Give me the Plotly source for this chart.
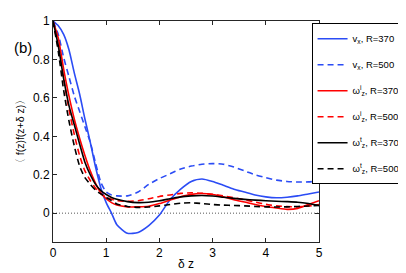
import plotly.graph_objects as go

x_grid = [0, 0.1, 0.2, 0.3, 0.4, 0.5, 0.6, 0.7, 0.8, 0.9, 1.0, 1.1, 1.2, 1.4, 1.6, 1.8,
          2.0, 2.2, 2.4, 2.6, 2.8, 3.0, 3.2, 3.4, 3.6, 3.8, 4.0, 4.2, 4.4, 4.6, 4.8, 5.0]

vx_370 = [1.0, 0.975, 0.93, 0.85, 0.73, 0.62, 0.49, 0.37, 0.24, 0.13, 0.055, 0.0, -0.06,
          -0.105, -0.10, -0.065, -0.01, 0.07, 0.125, 0.165, 0.178, 0.165, 0.145, 0.125,
          0.11, 0.095, 0.085, 0.08, 0.083, 0.09, 0.10, 0.11]
vx_500 = [1.0, 0.93, 0.81, 0.71, 0.61, 0.53, 0.45, 0.37, 0.26, 0.16, 0.11, 0.095, 0.09,
          0.09, 0.11, 0.15, 0.18, 0.205, 0.23, 0.245, 0.255, 0.258, 0.255, 0.24, 0.22,
          0.20, 0.185, 0.172, 0.165, 0.162, 0.163, 0.167]
wzi_370 = [1.0, 0.91, 0.75, 0.61, 0.49, 0.39, 0.30, 0.22, 0.155, 0.105, 0.075, 0.055, 0.042,
           0.033, 0.033, 0.036, 0.05, 0.068, 0.085, 0.098, 0.102, 0.097, 0.085, 0.07,
           0.058, 0.045, 0.035, 0.027, 0.02, 0.025, 0.045, 0.065]
wzi_500 = [1.0, 0.86, 0.70, 0.54, 0.41, 0.30, 0.22, 0.17, 0.13, 0.10, 0.083, 0.072, 0.065,
           0.062, 0.065, 0.075, 0.087, 0.095, 0.103, 0.106, 0.104, 0.098, 0.09, 0.08,
           0.07, 0.058, 0.046, 0.038, 0.034, 0.033, 0.037, 0.045]
wzt_370 = [1.0, 0.87, 0.70, 0.56, 0.46, 0.36, 0.265, 0.20, 0.15, 0.117, 0.097, 0.082, 0.072,
           0.06, 0.055, 0.057, 0.065, 0.075, 0.085, 0.09, 0.092, 0.089, 0.083, 0.077,
           0.072, 0.068, 0.065, 0.062, 0.06, 0.057, 0.05, 0.04]
wzt_500 = [1.0, 0.84, 0.64, 0.48, 0.35, 0.245, 0.185, 0.15, 0.12, 0.10, 0.082, 0.065, 0.048,
           0.035, 0.03, 0.032, 0.038, 0.045, 0.052, 0.054, 0.05, 0.045, 0.042, 0.04,
           0.038, 0.035, 0.033, 0.032, 0.033, 0.035, 0.037, 0.04]

series = [
    ("v<sub>x</sub>, R=370", vx_370, "#2b4cf5", "solid"),
    ("v<sub>x</sub>, R=500", vx_500, "#2b4cf5", "6px,4px"),
    ("ω<sup>i</sup><sub>z</sub>, R=370", wzi_370, "#ff0000", "solid"),
    ("ω<sup>i</sup><sub>z</sub>, R=500", wzi_500, "#ff0000", "6px,4px"),
    ("ω<sup>t</sup><sub>z</sub>, R=370", wzt_370, "#000000", "solid"),
    ("ω<sup>t</sup><sub>z</sub>, R=500", wzt_500, "#000000", "6px,4px"),
]

x_ticks = [0, 1, 2, 3, 4, 5]
y_ticks = [0, 0.2, 0.4, 0.6, 0.8, 1]
y_tick_labels = ["0", "0.2", "0.4", "0.6", "0.8", "1"]

fig = go.Figure()
for i, (name, ys, color, dash) in enumerate(series):
    fig.add_trace(go.Scatter(x=x_grid, y=ys, mode="lines", name=name, legendgroup=f"g{i}",
                             line=dict(color=color, width=1.6, dash=dash, shape="spline", smoothing=0.6)))

fig.add_shape(type="line", xref="paper", yref="y", x0=0, x1=1, y0=0, y1=0,
              line=dict(color="#555555", width=1, dash="1px,2px"), layer="below")

fig.add_annotation(text="(b)", xref="paper", yref="paper", x=-0.155, y=0.88,
                   xanchor="left", yanchor="middle", showarrow=False,
                   font=dict(size=15, color="#000000"))

axis_common = dict(showline=True, linecolor="#262626", linewidth=1, mirror="ticks",
                   ticks="inside", ticklen=4, tickcolor="#262626", showgrid=False,
                   zeroline=False, tickfont=dict(size=12, color="#000000"))

# page body has an 8px margin, so the figure is offset by 8px
fig.update_layout(
    width=398, height=265,
    margin=dict(l=45, r=87, t=13, b=31, autoexpand=False),
    paper_bgcolor="white", plot_bgcolor="white",
    font=dict(family="Liberation Sans, Arial, sans-serif", color="#000000"),
    xaxis=dict(range=[0, 5], tickvals=x_ticks, title=dict(text="δ z", font=dict(size=12), standoff=0),
               **axis_common),
    yaxis=dict(range=[-0.15, 1], tickvals=y_ticks, ticktext=y_tick_labels,
               title=dict(text="〈 f(z)f(z+δ z)〉", font=dict(size=10.5), standoff=6), **axis_common),
    legend=dict(x=0.972, y=0.99, xanchor="left", yanchor="top", bgcolor="white",
                bordercolor="#000000", borderwidth=1, font=dict(size=9.5),
                tracegroupgap=7, itemwidth=30),
    showlegend=True,
)

fig.write_html("out.html")
